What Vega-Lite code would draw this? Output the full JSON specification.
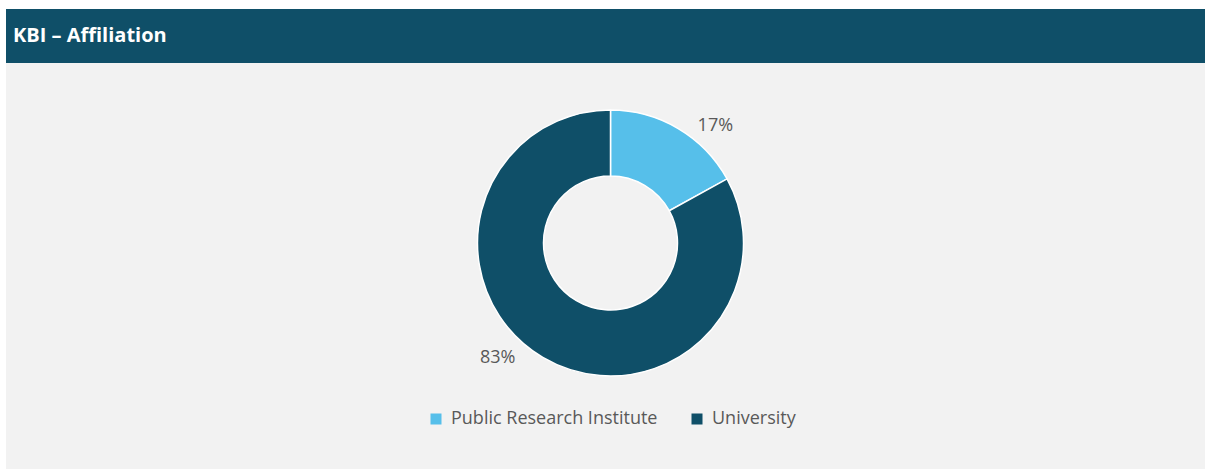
{
  "$schema": "https://vega.github.io/schema/vega-lite/v6.json",
  "background": "white",
  "padding": {"left": 6, "top": 9, "right": 0, "bottom": 0},
  "spacing": 0,
  "config": {"view": {"stroke": null}},
  "vconcat": [
    {
      "width": 1199,
      "height": 54,
      "view": {"fill": "#0f4f68", "stroke": null},
      "data": {"values": [{"t": "KBI – Affiliation"}]},
      "mark": {"type": "text", "align": "left", "baseline": "middle", "font": "Open Sans", "fontWeight": "bold", "fontSize": 20, "color": "white"},
      "encoding": {
        "text": {"field": "t"},
        "x": {"value": 7},
        "y": {"value": 27}
      }
    },
    {
      "width": 1199,
      "height": 406,
      "view": {"fill": "#f2f2f2", "stroke": null},
      "data": {"values": [
        {"category": "Public Research Institute", "value": 0.17},
        {"category": "University", "value": 0.83}
      ]},
      "encoding": {
        "theta": {"field": "value", "type": "quantitative", "stack": true},
        "color": {
          "field": "category", "type": "nominal",
          "scale": {"domain": ["Public Research Institute", "University"], "range": ["#56bfea", "#0f4f68"]},
          "legend": {
            "orient": "none", "legendX": 421, "legendY": 401, "direction": "horizontal", "columns": 2,
            "title": null, "symbolType": "square", "symbolSize": 121, "symbolStrokeWidth": 0,
            "labelFontSize": 18, "labelFont": "Open Sans", "labelColor": "#595959", "labelLimit": 400,
            "columnPadding": 30, "labelOffset": 6
          }
        }
      },
      "layer": [
        {
          "mark": {"type": "arc", "outerRadius": 133, "innerRadius": 67, "stroke": "white", "strokeWidth": 1.5, "xOffset": 5, "yOffset": -23}
        },
        {
          "mark": {"type": "text", "radius": 159, "thetaOffset": 0.22, "xOffset": 1, "yOffset": -24, "fontSize": 18, "font": "Open Sans", "color": "#595959"},
          "encoding": {
            "text": {"field": "value", "type": "quantitative", "format": ".0%"},
            "color": {"value": "#595959"}
          }
        }
      ]
    }
  ]
}
